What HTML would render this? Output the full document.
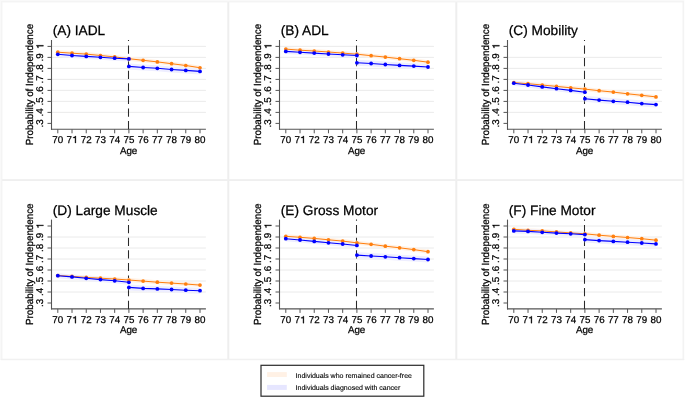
<!DOCTYPE html>
<html><head><meta charset="utf-8"><title>Figure</title>
<style>
html,body{margin:0;padding:0;background:#fff;}
body{width:685px;height:398px;overflow:hidden;}
svg{display:block;will-change:transform;text-rendering:geometricPrecision;font-family:"Liberation Sans",sans-serif;}
svg text{fill:#000000;stroke:#000;stroke-width:0.25px;}
</style></head><body>
<svg width="685" height="398" viewBox="0 0 685 398">
<rect x="0" y="0" width="685" height="398" fill="#ffffff"/>
<rect x="0" y="0" width="684.4" height="360" fill="#f9f9f9"/>
<rect x="2.5" y="2.5" width="224.7" height="176.7" fill="#ffffff"/>
<rect x="2.5" y="181" width="224.7" height="177.8" fill="#ffffff"/>
<rect x="229.3" y="2.5" width="225.9" height="176.7" fill="#ffffff"/>
<rect x="229.3" y="181" width="225.9" height="177.8" fill="#ffffff"/>
<rect x="457.3" y="2.5" width="225.3" height="176.7" fill="#ffffff"/>
<rect x="457.3" y="181" width="225.3" height="177.8" fill="#ffffff"/>
<rect x="227.4" y="1.2" width="1.8" height="358" fill="#eeeeee"/>
<rect x="455.4" y="1.2" width="1.8" height="358" fill="#eeeeee"/>
<rect x="1.2" y="179.2" width="682.6" height="1.8" fill="#efefef"/>
<rect x="0.8" y="358.8" width="683.4" height="1.4" fill="#f1f1f1"/>
<rect x="1.0" y="1.0" width="1.2" height="358" fill="#f4f4f4"/>
<rect x="1.0" y="1.0" width="682.6" height="1.2" fill="#f4f4f4"/>
<rect x="682.6" y="1.0" width="1.4" height="358" fill="#f3f3f3"/>
<g transform="translate(0,0)">
<line x1="52" y1="46.4" x2="205.9" y2="46.4" stroke="#e8e8e8" stroke-width="0.9"/>
<line x1="52" y1="57.4" x2="205.9" y2="57.4" stroke="#e8e8e8" stroke-width="0.9"/>
<line x1="52" y1="68.4" x2="205.9" y2="68.4" stroke="#e8e8e8" stroke-width="0.9"/>
<line x1="52" y1="79.4" x2="205.9" y2="79.4" stroke="#e8e8e8" stroke-width="0.9"/>
<line x1="52" y1="90.4" x2="205.9" y2="90.4" stroke="#e8e8e8" stroke-width="0.9"/>
<line x1="52" y1="101.4" x2="205.9" y2="101.4" stroke="#e8e8e8" stroke-width="0.9"/>
<line x1="52" y1="112.4" x2="205.9" y2="112.4" stroke="#e8e8e8" stroke-width="0.9"/>
<line x1="47.5" y1="46.4" x2="51.5" y2="46.4" stroke="#555555" stroke-width="1"/>
<g transform="translate(43.4,46.4) rotate(-90)"><path transform="translate(-2.72,0) scale(9.8,-9.8)" d="M0.302,0 L0.392,0 L0.392,0.709 L0.318,0.709 C0.296,0.622 0.228,0.582 0.108,0.578 L0.108,0.512 L0.302,0.512 Z" fill="#000" stroke="#000" stroke-width="0.03"/></g>
<line x1="47.5" y1="57.4" x2="51.5" y2="57.4" stroke="#555555" stroke-width="1"/>
<g transform="translate(43.4,57.4) rotate(-90)"><text x="-4.09" y="0" font-size="9.8">.9</text></g>
<line x1="47.5" y1="68.4" x2="51.5" y2="68.4" stroke="#555555" stroke-width="1"/>
<g transform="translate(43.4,68.4) rotate(-90)"><text x="-4.09" y="0" font-size="9.8">.8</text></g>
<line x1="47.5" y1="79.4" x2="51.5" y2="79.4" stroke="#555555" stroke-width="1"/>
<g transform="translate(43.4,79.4) rotate(-90)"><text x="-4.09" y="0" font-size="9.8">.7</text></g>
<line x1="47.5" y1="90.4" x2="51.5" y2="90.4" stroke="#555555" stroke-width="1"/>
<g transform="translate(43.4,90.4) rotate(-90)"><text x="-4.09" y="0" font-size="9.8">.6</text></g>
<line x1="47.5" y1="101.4" x2="51.5" y2="101.4" stroke="#555555" stroke-width="1"/>
<g transform="translate(43.4,101.4) rotate(-90)"><text x="-4.09" y="0" font-size="9.8">.5</text></g>
<line x1="47.5" y1="112.4" x2="51.5" y2="112.4" stroke="#555555" stroke-width="1"/>
<g transform="translate(43.4,112.4) rotate(-90)"><text x="-4.09" y="0" font-size="9.8">.4</text></g>
<line x1="47.5" y1="123.4" x2="51.5" y2="123.4" stroke="#555555" stroke-width="1"/>
<g transform="translate(43.4,123.4) rotate(-90)"><text x="-4.09" y="0" font-size="9.8">.3</text></g>
<line x1="57.8" y1="129.3" x2="57.8" y2="133.3" stroke="#555555" stroke-width="1"/>
<g transform="translate(57.8,142.95)"><text x="-5.45" y="0" font-size="9.8">70</text></g>
<line x1="72.02" y1="129.3" x2="72.02" y2="133.3" stroke="#555555" stroke-width="1"/>
<g transform="translate(72.02,142.95)"><text x="-5.45" y="0" font-size="9.8">7</text><path transform="translate(0,0) scale(9.8,-9.8)" d="M0.302,0 L0.392,0 L0.392,0.709 L0.318,0.709 C0.296,0.622 0.228,0.582 0.108,0.578 L0.108,0.512 L0.302,0.512 Z" fill="#000" stroke="#000" stroke-width="0.03"/></g>
<line x1="86.24" y1="129.3" x2="86.24" y2="133.3" stroke="#555555" stroke-width="1"/>
<g transform="translate(86.24,142.95)"><text x="-5.45" y="0" font-size="9.8">72</text></g>
<line x1="100.46" y1="129.3" x2="100.46" y2="133.3" stroke="#555555" stroke-width="1"/>
<g transform="translate(100.46,142.95)"><text x="-5.45" y="0" font-size="9.8">73</text></g>
<line x1="114.68" y1="129.3" x2="114.68" y2="133.3" stroke="#555555" stroke-width="1"/>
<g transform="translate(114.68,142.95)"><text x="-5.45" y="0" font-size="9.8">74</text></g>
<line x1="128.9" y1="129.3" x2="128.9" y2="133.3" stroke="#555555" stroke-width="1"/>
<g transform="translate(128.9,142.95)"><text x="-5.45" y="0" font-size="9.8">75</text></g>
<line x1="143.12" y1="129.3" x2="143.12" y2="133.3" stroke="#555555" stroke-width="1"/>
<g transform="translate(143.12,142.95)"><text x="-5.45" y="0" font-size="9.8">76</text></g>
<line x1="157.34" y1="129.3" x2="157.34" y2="133.3" stroke="#555555" stroke-width="1"/>
<g transform="translate(157.34,142.95)"><text x="-5.45" y="0" font-size="9.8">77</text></g>
<line x1="171.56" y1="129.3" x2="171.56" y2="133.3" stroke="#555555" stroke-width="1"/>
<g transform="translate(171.56,142.95)"><text x="-5.45" y="0" font-size="9.8">78</text></g>
<line x1="185.78" y1="129.3" x2="185.78" y2="133.3" stroke="#555555" stroke-width="1"/>
<g transform="translate(185.78,142.95)"><text x="-5.45" y="0" font-size="9.8">79</text></g>
<line x1="200" y1="129.3" x2="200" y2="133.3" stroke="#555555" stroke-width="1"/>
<g transform="translate(200,142.95)"><text x="-5.45" y="0" font-size="9.8">80</text></g>
<line x1="51.5" y1="40" x2="51.5" y2="129.8" stroke="#555555" stroke-width="1.1"/>
<line x1="51" y1="129.3" x2="205.9" y2="129.3" stroke="#555555" stroke-width="1.1"/>
<text x="52.75" y="35.3" font-size="13.7">(A) IADL</text>
<text transform="translate(33,84.6) rotate(-90) scale(1,1.05)" text-anchor="middle" font-size="9.8">Probability of Independence</text>
<text x="128.6" y="153.6" text-anchor="middle" font-size="9.8">Age</text>
</g>
<line x1="128.5" y1="129.3" x2="128.5" y2="40" stroke="#2a2a2a" stroke-width="1.05" stroke-dasharray="8.2 4.4"/>
<polyline points="57.8,52.2 72.02,53.2 86.24,54.1 100.46,55.5 114.68,56.9 128.9,58.7 143.12,60.3 157.34,61.9 171.56,63.7 185.78,65.5 200,67.75" fill="none" stroke="#fff1e4" stroke-width="4.0" stroke-linejoin="round"/>
<polyline points="57.8,54.3 72.02,55.5 86.24,56.4 100.46,57.3 114.68,58.2 128.9,58.9" fill="none" stroke="#eeeeff" stroke-width="5.0" stroke-linejoin="round"/>
<polyline points="128.9,66.4 143.12,67.5 157.34,68.3 171.56,69.5 185.78,70.4 200,71.4" fill="none" stroke="#eeeeff" stroke-width="6.0" stroke-linejoin="round"/>
<polyline points="57.8,52.2 72.02,53.2 86.24,54.1 100.46,55.5 114.68,56.9 128.9,58.7 143.12,60.3 157.34,61.9 171.56,63.7 185.78,65.5 200,67.75" fill="none" stroke="#ff7f0e" stroke-width="1.0" stroke-linejoin="round"/>
<circle cx="57.8" cy="52.2" r="1.85" fill="#ff7f0e"/><circle cx="72.02" cy="53.2" r="1.85" fill="#ff7f0e"/><circle cx="86.24" cy="54.1" r="1.85" fill="#ff7f0e"/><circle cx="100.46" cy="55.5" r="1.85" fill="#ff7f0e"/><circle cx="114.68" cy="56.9" r="1.85" fill="#ff7f0e"/><circle cx="128.9" cy="58.7" r="1.85" fill="#ff7f0e"/><circle cx="143.12" cy="60.3" r="1.85" fill="#ff7f0e"/><circle cx="157.34" cy="61.9" r="1.85" fill="#ff7f0e"/><circle cx="171.56" cy="63.7" r="1.85" fill="#ff7f0e"/><circle cx="185.78" cy="65.5" r="1.85" fill="#ff7f0e"/><circle cx="200" cy="67.75" r="1.85" fill="#ff7f0e"/>
<polyline points="57.8,54.3 72.02,55.5 86.24,56.4 100.46,57.3 114.68,58.2 128.9,58.9" fill="none" stroke="#0000ff" stroke-width="1.15" stroke-linejoin="round"/>
<polyline points="128.9,66.4 143.12,67.5 157.34,68.3 171.56,69.5 185.78,70.4 200,71.4" fill="none" stroke="#0000ff" stroke-width="1.15" stroke-linejoin="round"/>
<circle cx="57.8" cy="54.3" r="1.9" fill="#0000ff"/><circle cx="72.02" cy="55.5" r="1.9" fill="#0000ff"/><circle cx="86.24" cy="56.4" r="1.9" fill="#0000ff"/><circle cx="100.46" cy="57.3" r="1.9" fill="#0000ff"/><circle cx="114.68" cy="58.2" r="1.9" fill="#0000ff"/><circle cx="128.9" cy="58.9" r="1.9" fill="#0000ff"/>
<circle cx="128.9" cy="66.4" r="1.9" fill="#0000ff"/><circle cx="143.12" cy="67.5" r="1.9" fill="#0000ff"/><circle cx="157.34" cy="68.3" r="1.9" fill="#0000ff"/><circle cx="171.56" cy="69.5" r="1.9" fill="#0000ff"/><circle cx="185.78" cy="70.4" r="1.9" fill="#0000ff"/><circle cx="200" cy="71.4" r="1.9" fill="#0000ff"/>
<g transform="translate(228,0)">
<line x1="52" y1="46.4" x2="205.9" y2="46.4" stroke="#e8e8e8" stroke-width="0.9"/>
<line x1="52" y1="57.4" x2="205.9" y2="57.4" stroke="#e8e8e8" stroke-width="0.9"/>
<line x1="52" y1="68.4" x2="205.9" y2="68.4" stroke="#e8e8e8" stroke-width="0.9"/>
<line x1="52" y1="79.4" x2="205.9" y2="79.4" stroke="#e8e8e8" stroke-width="0.9"/>
<line x1="52" y1="90.4" x2="205.9" y2="90.4" stroke="#e8e8e8" stroke-width="0.9"/>
<line x1="52" y1="101.4" x2="205.9" y2="101.4" stroke="#e8e8e8" stroke-width="0.9"/>
<line x1="52" y1="112.4" x2="205.9" y2="112.4" stroke="#e8e8e8" stroke-width="0.9"/>
<line x1="47.5" y1="46.4" x2="51.5" y2="46.4" stroke="#555555" stroke-width="1"/>
<g transform="translate(43.4,46.4) rotate(-90)"><path transform="translate(-2.72,0) scale(9.8,-9.8)" d="M0.302,0 L0.392,0 L0.392,0.709 L0.318,0.709 C0.296,0.622 0.228,0.582 0.108,0.578 L0.108,0.512 L0.302,0.512 Z" fill="#000" stroke="#000" stroke-width="0.03"/></g>
<line x1="47.5" y1="57.4" x2="51.5" y2="57.4" stroke="#555555" stroke-width="1"/>
<g transform="translate(43.4,57.4) rotate(-90)"><text x="-4.09" y="0" font-size="9.8">.9</text></g>
<line x1="47.5" y1="68.4" x2="51.5" y2="68.4" stroke="#555555" stroke-width="1"/>
<g transform="translate(43.4,68.4) rotate(-90)"><text x="-4.09" y="0" font-size="9.8">.8</text></g>
<line x1="47.5" y1="79.4" x2="51.5" y2="79.4" stroke="#555555" stroke-width="1"/>
<g transform="translate(43.4,79.4) rotate(-90)"><text x="-4.09" y="0" font-size="9.8">.7</text></g>
<line x1="47.5" y1="90.4" x2="51.5" y2="90.4" stroke="#555555" stroke-width="1"/>
<g transform="translate(43.4,90.4) rotate(-90)"><text x="-4.09" y="0" font-size="9.8">.6</text></g>
<line x1="47.5" y1="101.4" x2="51.5" y2="101.4" stroke="#555555" stroke-width="1"/>
<g transform="translate(43.4,101.4) rotate(-90)"><text x="-4.09" y="0" font-size="9.8">.5</text></g>
<line x1="47.5" y1="112.4" x2="51.5" y2="112.4" stroke="#555555" stroke-width="1"/>
<g transform="translate(43.4,112.4) rotate(-90)"><text x="-4.09" y="0" font-size="9.8">.4</text></g>
<line x1="47.5" y1="123.4" x2="51.5" y2="123.4" stroke="#555555" stroke-width="1"/>
<g transform="translate(43.4,123.4) rotate(-90)"><text x="-4.09" y="0" font-size="9.8">.3</text></g>
<line x1="57.8" y1="129.3" x2="57.8" y2="133.3" stroke="#555555" stroke-width="1"/>
<g transform="translate(57.8,142.95)"><text x="-5.45" y="0" font-size="9.8">70</text></g>
<line x1="72.02" y1="129.3" x2="72.02" y2="133.3" stroke="#555555" stroke-width="1"/>
<g transform="translate(72.02,142.95)"><text x="-5.45" y="0" font-size="9.8">7</text><path transform="translate(0,0) scale(9.8,-9.8)" d="M0.302,0 L0.392,0 L0.392,0.709 L0.318,0.709 C0.296,0.622 0.228,0.582 0.108,0.578 L0.108,0.512 L0.302,0.512 Z" fill="#000" stroke="#000" stroke-width="0.03"/></g>
<line x1="86.24" y1="129.3" x2="86.24" y2="133.3" stroke="#555555" stroke-width="1"/>
<g transform="translate(86.24,142.95)"><text x="-5.45" y="0" font-size="9.8">72</text></g>
<line x1="100.46" y1="129.3" x2="100.46" y2="133.3" stroke="#555555" stroke-width="1"/>
<g transform="translate(100.46,142.95)"><text x="-5.45" y="0" font-size="9.8">73</text></g>
<line x1="114.68" y1="129.3" x2="114.68" y2="133.3" stroke="#555555" stroke-width="1"/>
<g transform="translate(114.68,142.95)"><text x="-5.45" y="0" font-size="9.8">74</text></g>
<line x1="128.9" y1="129.3" x2="128.9" y2="133.3" stroke="#555555" stroke-width="1"/>
<g transform="translate(128.9,142.95)"><text x="-5.45" y="0" font-size="9.8">75</text></g>
<line x1="143.12" y1="129.3" x2="143.12" y2="133.3" stroke="#555555" stroke-width="1"/>
<g transform="translate(143.12,142.95)"><text x="-5.45" y="0" font-size="9.8">76</text></g>
<line x1="157.34" y1="129.3" x2="157.34" y2="133.3" stroke="#555555" stroke-width="1"/>
<g transform="translate(157.34,142.95)"><text x="-5.45" y="0" font-size="9.8">77</text></g>
<line x1="171.56" y1="129.3" x2="171.56" y2="133.3" stroke="#555555" stroke-width="1"/>
<g transform="translate(171.56,142.95)"><text x="-5.45" y="0" font-size="9.8">78</text></g>
<line x1="185.78" y1="129.3" x2="185.78" y2="133.3" stroke="#555555" stroke-width="1"/>
<g transform="translate(185.78,142.95)"><text x="-5.45" y="0" font-size="9.8">79</text></g>
<line x1="200" y1="129.3" x2="200" y2="133.3" stroke="#555555" stroke-width="1"/>
<g transform="translate(200,142.95)"><text x="-5.45" y="0" font-size="9.8">80</text></g>
<line x1="51.5" y1="40" x2="51.5" y2="129.8" stroke="#555555" stroke-width="1.1"/>
<line x1="51" y1="129.3" x2="205.9" y2="129.3" stroke="#555555" stroke-width="1.1"/>
<text x="52.75" y="35.3" font-size="13.7">(B) ADL</text>
<text transform="translate(33,84.6) rotate(-90) scale(1,1.05)" text-anchor="middle" font-size="9.8">Probability of Independence</text>
<text x="128.6" y="153.6" text-anchor="middle" font-size="9.8">Age</text>
</g>
<line x1="356.5" y1="129.3" x2="356.5" y2="40" stroke="#2a2a2a" stroke-width="1.05" stroke-dasharray="8.2 4.4"/>
<polyline points="285.8,49.1 300.02,50.2 314.24,51 328.46,52 342.68,53.1 356.9,54.2 371.12,55.7 385.34,57.1 399.56,58.7 413.78,60.3 428,62.2" fill="none" stroke="#fff1e4" stroke-width="4.0" stroke-linejoin="round"/>
<polyline points="285.8,51.4 300.02,52.3 314.24,53.1 328.46,54 342.68,54.8 356.9,55.5" fill="none" stroke="#eeeeff" stroke-width="5.0" stroke-linejoin="round"/>
<polyline points="356.9,62.8 371.12,63.5 385.34,64.5 399.56,65.4 413.78,66.1 428,67" fill="none" stroke="#eeeeff" stroke-width="6.0" stroke-linejoin="round"/>
<polyline points="285.8,49.1 300.02,50.2 314.24,51 328.46,52 342.68,53.1 356.9,54.2 371.12,55.7 385.34,57.1 399.56,58.7 413.78,60.3 428,62.2" fill="none" stroke="#ff7f0e" stroke-width="1.0" stroke-linejoin="round"/>
<circle cx="285.8" cy="49.1" r="1.85" fill="#ff7f0e"/><circle cx="300.02" cy="50.2" r="1.85" fill="#ff7f0e"/><circle cx="314.24" cy="51" r="1.85" fill="#ff7f0e"/><circle cx="328.46" cy="52" r="1.85" fill="#ff7f0e"/><circle cx="342.68" cy="53.1" r="1.85" fill="#ff7f0e"/><circle cx="356.9" cy="54.2" r="1.85" fill="#ff7f0e"/><circle cx="371.12" cy="55.7" r="1.85" fill="#ff7f0e"/><circle cx="385.34" cy="57.1" r="1.85" fill="#ff7f0e"/><circle cx="399.56" cy="58.7" r="1.85" fill="#ff7f0e"/><circle cx="413.78" cy="60.3" r="1.85" fill="#ff7f0e"/><circle cx="428" cy="62.2" r="1.85" fill="#ff7f0e"/>
<polyline points="285.8,51.4 300.02,52.3 314.24,53.1 328.46,54 342.68,54.8 356.9,55.5" fill="none" stroke="#0000ff" stroke-width="1.15" stroke-linejoin="round"/>
<polyline points="356.9,62.8 371.12,63.5 385.34,64.5 399.56,65.4 413.78,66.1 428,67" fill="none" stroke="#0000ff" stroke-width="1.15" stroke-linejoin="round"/>
<circle cx="285.8" cy="51.4" r="1.9" fill="#0000ff"/><circle cx="300.02" cy="52.3" r="1.9" fill="#0000ff"/><circle cx="314.24" cy="53.1" r="1.9" fill="#0000ff"/><circle cx="328.46" cy="54" r="1.9" fill="#0000ff"/><circle cx="342.68" cy="54.8" r="1.9" fill="#0000ff"/><circle cx="356.9" cy="55.5" r="1.9" fill="#0000ff"/>
<circle cx="356.9" cy="62.8" r="1.9" fill="#0000ff"/><circle cx="371.12" cy="63.5" r="1.9" fill="#0000ff"/><circle cx="385.34" cy="64.5" r="1.9" fill="#0000ff"/><circle cx="399.56" cy="65.4" r="1.9" fill="#0000ff"/><circle cx="413.78" cy="66.1" r="1.9" fill="#0000ff"/><circle cx="428" cy="67" r="1.9" fill="#0000ff"/>
<g transform="translate(456,0)">
<line x1="52" y1="57.4" x2="205.9" y2="57.4" stroke="#e8e8e8" stroke-width="0.9"/>
<line x1="52" y1="68.4" x2="205.9" y2="68.4" stroke="#e8e8e8" stroke-width="0.9"/>
<line x1="52" y1="79.4" x2="205.9" y2="79.4" stroke="#e8e8e8" stroke-width="0.9"/>
<line x1="52" y1="90.4" x2="205.9" y2="90.4" stroke="#e8e8e8" stroke-width="0.9"/>
<line x1="52" y1="101.4" x2="205.9" y2="101.4" stroke="#e8e8e8" stroke-width="0.9"/>
<line x1="52" y1="112.4" x2="205.9" y2="112.4" stroke="#e8e8e8" stroke-width="0.9"/>
<line x1="47.5" y1="46.4" x2="51.5" y2="46.4" stroke="#555555" stroke-width="1"/>
<g transform="translate(43.4,46.4) rotate(-90)"><path transform="translate(-2.72,0) scale(9.8,-9.8)" d="M0.302,0 L0.392,0 L0.392,0.709 L0.318,0.709 C0.296,0.622 0.228,0.582 0.108,0.578 L0.108,0.512 L0.302,0.512 Z" fill="#000" stroke="#000" stroke-width="0.03"/></g>
<line x1="47.5" y1="57.4" x2="51.5" y2="57.4" stroke="#555555" stroke-width="1"/>
<g transform="translate(43.4,57.4) rotate(-90)"><text x="-4.09" y="0" font-size="9.8">.9</text></g>
<line x1="47.5" y1="68.4" x2="51.5" y2="68.4" stroke="#555555" stroke-width="1"/>
<g transform="translate(43.4,68.4) rotate(-90)"><text x="-4.09" y="0" font-size="9.8">.8</text></g>
<line x1="47.5" y1="79.4" x2="51.5" y2="79.4" stroke="#555555" stroke-width="1"/>
<g transform="translate(43.4,79.4) rotate(-90)"><text x="-4.09" y="0" font-size="9.8">.7</text></g>
<line x1="47.5" y1="90.4" x2="51.5" y2="90.4" stroke="#555555" stroke-width="1"/>
<g transform="translate(43.4,90.4) rotate(-90)"><text x="-4.09" y="0" font-size="9.8">.6</text></g>
<line x1="47.5" y1="101.4" x2="51.5" y2="101.4" stroke="#555555" stroke-width="1"/>
<g transform="translate(43.4,101.4) rotate(-90)"><text x="-4.09" y="0" font-size="9.8">.5</text></g>
<line x1="47.5" y1="112.4" x2="51.5" y2="112.4" stroke="#555555" stroke-width="1"/>
<g transform="translate(43.4,112.4) rotate(-90)"><text x="-4.09" y="0" font-size="9.8">.4</text></g>
<line x1="47.5" y1="123.4" x2="51.5" y2="123.4" stroke="#555555" stroke-width="1"/>
<g transform="translate(43.4,123.4) rotate(-90)"><text x="-4.09" y="0" font-size="9.8">.3</text></g>
<line x1="57.8" y1="129.3" x2="57.8" y2="133.3" stroke="#555555" stroke-width="1"/>
<g transform="translate(57.8,142.95)"><text x="-5.45" y="0" font-size="9.8">70</text></g>
<line x1="72.02" y1="129.3" x2="72.02" y2="133.3" stroke="#555555" stroke-width="1"/>
<g transform="translate(72.02,142.95)"><text x="-5.45" y="0" font-size="9.8">7</text><path transform="translate(0,0) scale(9.8,-9.8)" d="M0.302,0 L0.392,0 L0.392,0.709 L0.318,0.709 C0.296,0.622 0.228,0.582 0.108,0.578 L0.108,0.512 L0.302,0.512 Z" fill="#000" stroke="#000" stroke-width="0.03"/></g>
<line x1="86.24" y1="129.3" x2="86.24" y2="133.3" stroke="#555555" stroke-width="1"/>
<g transform="translate(86.24,142.95)"><text x="-5.45" y="0" font-size="9.8">72</text></g>
<line x1="100.46" y1="129.3" x2="100.46" y2="133.3" stroke="#555555" stroke-width="1"/>
<g transform="translate(100.46,142.95)"><text x="-5.45" y="0" font-size="9.8">73</text></g>
<line x1="114.68" y1="129.3" x2="114.68" y2="133.3" stroke="#555555" stroke-width="1"/>
<g transform="translate(114.68,142.95)"><text x="-5.45" y="0" font-size="9.8">74</text></g>
<line x1="128.9" y1="129.3" x2="128.9" y2="133.3" stroke="#555555" stroke-width="1"/>
<g transform="translate(128.9,142.95)"><text x="-5.45" y="0" font-size="9.8">75</text></g>
<line x1="143.12" y1="129.3" x2="143.12" y2="133.3" stroke="#555555" stroke-width="1"/>
<g transform="translate(143.12,142.95)"><text x="-5.45" y="0" font-size="9.8">76</text></g>
<line x1="157.34" y1="129.3" x2="157.34" y2="133.3" stroke="#555555" stroke-width="1"/>
<g transform="translate(157.34,142.95)"><text x="-5.45" y="0" font-size="9.8">77</text></g>
<line x1="171.56" y1="129.3" x2="171.56" y2="133.3" stroke="#555555" stroke-width="1"/>
<g transform="translate(171.56,142.95)"><text x="-5.45" y="0" font-size="9.8">78</text></g>
<line x1="185.78" y1="129.3" x2="185.78" y2="133.3" stroke="#555555" stroke-width="1"/>
<g transform="translate(185.78,142.95)"><text x="-5.45" y="0" font-size="9.8">79</text></g>
<line x1="200" y1="129.3" x2="200" y2="133.3" stroke="#555555" stroke-width="1"/>
<g transform="translate(200,142.95)"><text x="-5.45" y="0" font-size="9.8">80</text></g>
<line x1="51.5" y1="40" x2="51.5" y2="129.8" stroke="#555555" stroke-width="1.1"/>
<line x1="51" y1="129.3" x2="205.9" y2="129.3" stroke="#555555" stroke-width="1.1"/>
<text x="52.75" y="35.3" font-size="13.7">(C) Mobility</text>
<text transform="translate(33,84.6) rotate(-90) scale(1,1.05)" text-anchor="middle" font-size="9.8">Probability of Independence</text>
<text x="128.6" y="153.6" text-anchor="middle" font-size="9.8">Age</text>
</g>
<line x1="584.5" y1="129.3" x2="584.5" y2="40" stroke="#2a2a2a" stroke-width="1.05" stroke-dasharray="8.2 4.4"/>
<polyline points="513.8,82.6 528.02,83.7 542.24,85 556.46,86.4 570.68,87.8 584.9,89.1 599.12,90.7 613.34,92.1 627.56,93.8 641.78,95.3 656,96.9" fill="none" stroke="#fff1e4" stroke-width="4.0" stroke-linejoin="round"/>
<polyline points="513.8,83.2 528.02,85 542.24,86.9 556.46,88.7 570.68,90.4 584.9,92.2" fill="none" stroke="#eeeeff" stroke-width="5.0" stroke-linejoin="round"/>
<polyline points="584.9,98.7 599.12,100.1 613.34,101.3 627.56,102.2 641.78,103.6 656,104.6" fill="none" stroke="#eeeeff" stroke-width="6.0" stroke-linejoin="round"/>
<polyline points="513.8,82.6 528.02,83.7 542.24,85 556.46,86.4 570.68,87.8 584.9,89.1 599.12,90.7 613.34,92.1 627.56,93.8 641.78,95.3 656,96.9" fill="none" stroke="#ff7f0e" stroke-width="1.0" stroke-linejoin="round"/>
<circle cx="513.8" cy="82.6" r="1.85" fill="#ff7f0e"/><circle cx="528.02" cy="83.7" r="1.85" fill="#ff7f0e"/><circle cx="542.24" cy="85" r="1.85" fill="#ff7f0e"/><circle cx="556.46" cy="86.4" r="1.85" fill="#ff7f0e"/><circle cx="570.68" cy="87.8" r="1.85" fill="#ff7f0e"/><circle cx="584.9" cy="89.1" r="1.85" fill="#ff7f0e"/><circle cx="599.12" cy="90.7" r="1.85" fill="#ff7f0e"/><circle cx="613.34" cy="92.1" r="1.85" fill="#ff7f0e"/><circle cx="627.56" cy="93.8" r="1.85" fill="#ff7f0e"/><circle cx="641.78" cy="95.3" r="1.85" fill="#ff7f0e"/><circle cx="656" cy="96.9" r="1.85" fill="#ff7f0e"/>
<polyline points="513.8,83.2 528.02,85 542.24,86.9 556.46,88.7 570.68,90.4 584.9,92.2" fill="none" stroke="#0000ff" stroke-width="1.15" stroke-linejoin="round"/>
<polyline points="584.9,98.7 599.12,100.1 613.34,101.3 627.56,102.2 641.78,103.6 656,104.6" fill="none" stroke="#0000ff" stroke-width="1.15" stroke-linejoin="round"/>
<circle cx="513.8" cy="83.2" r="1.9" fill="#0000ff"/><circle cx="528.02" cy="85" r="1.9" fill="#0000ff"/><circle cx="542.24" cy="86.9" r="1.9" fill="#0000ff"/><circle cx="556.46" cy="88.7" r="1.9" fill="#0000ff"/><circle cx="570.68" cy="90.4" r="1.9" fill="#0000ff"/><circle cx="584.9" cy="92.2" r="1.9" fill="#0000ff"/>
<circle cx="584.9" cy="98.7" r="1.9" fill="#0000ff"/><circle cx="599.12" cy="100.1" r="1.9" fill="#0000ff"/><circle cx="613.34" cy="101.3" r="1.9" fill="#0000ff"/><circle cx="627.56" cy="102.2" r="1.9" fill="#0000ff"/><circle cx="641.78" cy="103.6" r="1.9" fill="#0000ff"/><circle cx="656" cy="104.6" r="1.9" fill="#0000ff"/>
<g transform="translate(0,179.6)">
<line x1="52" y1="57.4" x2="205.9" y2="57.4" stroke="#e8e8e8" stroke-width="0.9"/>
<line x1="52" y1="68.4" x2="205.9" y2="68.4" stroke="#e8e8e8" stroke-width="0.9"/>
<line x1="52" y1="79.4" x2="205.9" y2="79.4" stroke="#e8e8e8" stroke-width="0.9"/>
<line x1="52" y1="90.4" x2="205.9" y2="90.4" stroke="#e8e8e8" stroke-width="0.9"/>
<line x1="52" y1="101.4" x2="205.9" y2="101.4" stroke="#e8e8e8" stroke-width="0.9"/>
<line x1="52" y1="112.4" x2="205.9" y2="112.4" stroke="#e8e8e8" stroke-width="0.9"/>
<line x1="47.5" y1="46.4" x2="51.5" y2="46.4" stroke="#555555" stroke-width="1"/>
<g transform="translate(43.4,46.4) rotate(-90)"><path transform="translate(-2.72,0) scale(9.8,-9.8)" d="M0.302,0 L0.392,0 L0.392,0.709 L0.318,0.709 C0.296,0.622 0.228,0.582 0.108,0.578 L0.108,0.512 L0.302,0.512 Z" fill="#000" stroke="#000" stroke-width="0.03"/></g>
<line x1="47.5" y1="57.4" x2="51.5" y2="57.4" stroke="#555555" stroke-width="1"/>
<g transform="translate(43.4,57.4) rotate(-90)"><text x="-4.09" y="0" font-size="9.8">.9</text></g>
<line x1="47.5" y1="68.4" x2="51.5" y2="68.4" stroke="#555555" stroke-width="1"/>
<g transform="translate(43.4,68.4) rotate(-90)"><text x="-4.09" y="0" font-size="9.8">.8</text></g>
<line x1="47.5" y1="79.4" x2="51.5" y2="79.4" stroke="#555555" stroke-width="1"/>
<g transform="translate(43.4,79.4) rotate(-90)"><text x="-4.09" y="0" font-size="9.8">.7</text></g>
<line x1="47.5" y1="90.4" x2="51.5" y2="90.4" stroke="#555555" stroke-width="1"/>
<g transform="translate(43.4,90.4) rotate(-90)"><text x="-4.09" y="0" font-size="9.8">.6</text></g>
<line x1="47.5" y1="101.4" x2="51.5" y2="101.4" stroke="#555555" stroke-width="1"/>
<g transform="translate(43.4,101.4) rotate(-90)"><text x="-4.09" y="0" font-size="9.8">.5</text></g>
<line x1="47.5" y1="112.4" x2="51.5" y2="112.4" stroke="#555555" stroke-width="1"/>
<g transform="translate(43.4,112.4) rotate(-90)"><text x="-4.09" y="0" font-size="9.8">.4</text></g>
<line x1="47.5" y1="123.4" x2="51.5" y2="123.4" stroke="#555555" stroke-width="1"/>
<g transform="translate(43.4,123.4) rotate(-90)"><text x="-4.09" y="0" font-size="9.8">.3</text></g>
<line x1="57.8" y1="129.3" x2="57.8" y2="133.3" stroke="#555555" stroke-width="1"/>
<g transform="translate(57.8,143.55)"><text x="-5.45" y="0" font-size="9.8">70</text></g>
<line x1="72.02" y1="129.3" x2="72.02" y2="133.3" stroke="#555555" stroke-width="1"/>
<g transform="translate(72.02,143.55)"><text x="-5.45" y="0" font-size="9.8">7</text><path transform="translate(0,0) scale(9.8,-9.8)" d="M0.302,0 L0.392,0 L0.392,0.709 L0.318,0.709 C0.296,0.622 0.228,0.582 0.108,0.578 L0.108,0.512 L0.302,0.512 Z" fill="#000" stroke="#000" stroke-width="0.03"/></g>
<line x1="86.24" y1="129.3" x2="86.24" y2="133.3" stroke="#555555" stroke-width="1"/>
<g transform="translate(86.24,143.55)"><text x="-5.45" y="0" font-size="9.8">72</text></g>
<line x1="100.46" y1="129.3" x2="100.46" y2="133.3" stroke="#555555" stroke-width="1"/>
<g transform="translate(100.46,143.55)"><text x="-5.45" y="0" font-size="9.8">73</text></g>
<line x1="114.68" y1="129.3" x2="114.68" y2="133.3" stroke="#555555" stroke-width="1"/>
<g transform="translate(114.68,143.55)"><text x="-5.45" y="0" font-size="9.8">74</text></g>
<line x1="128.9" y1="129.3" x2="128.9" y2="133.3" stroke="#555555" stroke-width="1"/>
<g transform="translate(128.9,143.55)"><text x="-5.45" y="0" font-size="9.8">75</text></g>
<line x1="143.12" y1="129.3" x2="143.12" y2="133.3" stroke="#555555" stroke-width="1"/>
<g transform="translate(143.12,143.55)"><text x="-5.45" y="0" font-size="9.8">76</text></g>
<line x1="157.34" y1="129.3" x2="157.34" y2="133.3" stroke="#555555" stroke-width="1"/>
<g transform="translate(157.34,143.55)"><text x="-5.45" y="0" font-size="9.8">77</text></g>
<line x1="171.56" y1="129.3" x2="171.56" y2="133.3" stroke="#555555" stroke-width="1"/>
<g transform="translate(171.56,143.55)"><text x="-5.45" y="0" font-size="9.8">78</text></g>
<line x1="185.78" y1="129.3" x2="185.78" y2="133.3" stroke="#555555" stroke-width="1"/>
<g transform="translate(185.78,143.55)"><text x="-5.45" y="0" font-size="9.8">79</text></g>
<line x1="200" y1="129.3" x2="200" y2="133.3" stroke="#555555" stroke-width="1"/>
<g transform="translate(200,143.55)"><text x="-5.45" y="0" font-size="9.8">80</text></g>
<line x1="51.5" y1="40" x2="51.5" y2="129.8" stroke="#555555" stroke-width="1.1"/>
<line x1="51" y1="129.3" x2="205.9" y2="129.3" stroke="#555555" stroke-width="1.1"/>
<text x="52.75" y="35.3" font-size="13.7">(D) Large Muscle</text>
<text transform="translate(33,84.6) rotate(-90) scale(1,1.05)" text-anchor="middle" font-size="9.8">Probability of Independence</text>
<text x="128.6" y="153.6" text-anchor="middle" font-size="9.8">Age</text>
</g>
<line x1="128.5" y1="308.9" x2="128.5" y2="219.6" stroke="#2a2a2a" stroke-width="1.05" stroke-dasharray="8.2 4.4"/>
<polyline points="57.8,275.5 72.02,276.4 86.24,277.4 100.46,278.2 114.68,279 128.9,280 143.12,281.1 157.34,282.2 171.56,283.1 185.78,284 200,285.1" fill="none" stroke="#fff1e4" stroke-width="4.0" stroke-linejoin="round"/>
<polyline points="57.8,275.7 72.02,276.9 86.24,278.3 100.46,279.6 114.68,280.8 128.9,282.3" fill="none" stroke="#eeeeff" stroke-width="5.0" stroke-linejoin="round"/>
<polyline points="128.9,287.4 143.12,288.4 157.34,288.9 171.56,289.5 185.78,290.2 200,290.7" fill="none" stroke="#eeeeff" stroke-width="6.0" stroke-linejoin="round"/>
<polyline points="57.8,275.5 72.02,276.4 86.24,277.4 100.46,278.2 114.68,279 128.9,280 143.12,281.1 157.34,282.2 171.56,283.1 185.78,284 200,285.1" fill="none" stroke="#ff7f0e" stroke-width="1.0" stroke-linejoin="round"/>
<circle cx="57.8" cy="275.5" r="1.85" fill="#ff7f0e"/><circle cx="72.02" cy="276.4" r="1.85" fill="#ff7f0e"/><circle cx="86.24" cy="277.4" r="1.85" fill="#ff7f0e"/><circle cx="100.46" cy="278.2" r="1.85" fill="#ff7f0e"/><circle cx="114.68" cy="279" r="1.85" fill="#ff7f0e"/><circle cx="128.9" cy="280" r="1.85" fill="#ff7f0e"/><circle cx="143.12" cy="281.1" r="1.85" fill="#ff7f0e"/><circle cx="157.34" cy="282.2" r="1.85" fill="#ff7f0e"/><circle cx="171.56" cy="283.1" r="1.85" fill="#ff7f0e"/><circle cx="185.78" cy="284" r="1.85" fill="#ff7f0e"/><circle cx="200" cy="285.1" r="1.85" fill="#ff7f0e"/>
<polyline points="57.8,275.7 72.02,276.9 86.24,278.3 100.46,279.6 114.68,280.8 128.9,282.3" fill="none" stroke="#0000ff" stroke-width="1.15" stroke-linejoin="round"/>
<polyline points="128.9,287.4 143.12,288.4 157.34,288.9 171.56,289.5 185.78,290.2 200,290.7" fill="none" stroke="#0000ff" stroke-width="1.15" stroke-linejoin="round"/>
<circle cx="57.8" cy="275.7" r="1.9" fill="#0000ff"/><circle cx="72.02" cy="276.9" r="1.9" fill="#0000ff"/><circle cx="86.24" cy="278.3" r="1.9" fill="#0000ff"/><circle cx="100.46" cy="279.6" r="1.9" fill="#0000ff"/><circle cx="114.68" cy="280.8" r="1.9" fill="#0000ff"/><circle cx="128.9" cy="282.3" r="1.9" fill="#0000ff"/>
<circle cx="128.9" cy="287.4" r="1.9" fill="#0000ff"/><circle cx="143.12" cy="288.4" r="1.9" fill="#0000ff"/><circle cx="157.34" cy="288.9" r="1.9" fill="#0000ff"/><circle cx="171.56" cy="289.5" r="1.9" fill="#0000ff"/><circle cx="185.78" cy="290.2" r="1.9" fill="#0000ff"/><circle cx="200" cy="290.7" r="1.9" fill="#0000ff"/>
<g transform="translate(228,179.6)">
<line x1="52" y1="57.4" x2="205.9" y2="57.4" stroke="#e8e8e8" stroke-width="0.9"/>
<line x1="52" y1="68.4" x2="205.9" y2="68.4" stroke="#e8e8e8" stroke-width="0.9"/>
<line x1="52" y1="79.4" x2="205.9" y2="79.4" stroke="#e8e8e8" stroke-width="0.9"/>
<line x1="52" y1="90.4" x2="205.9" y2="90.4" stroke="#e8e8e8" stroke-width="0.9"/>
<line x1="52" y1="101.4" x2="205.9" y2="101.4" stroke="#e8e8e8" stroke-width="0.9"/>
<line x1="52" y1="112.4" x2="205.9" y2="112.4" stroke="#e8e8e8" stroke-width="0.9"/>
<line x1="47.5" y1="46.4" x2="51.5" y2="46.4" stroke="#555555" stroke-width="1"/>
<g transform="translate(43.4,46.4) rotate(-90)"><path transform="translate(-2.72,0) scale(9.8,-9.8)" d="M0.302,0 L0.392,0 L0.392,0.709 L0.318,0.709 C0.296,0.622 0.228,0.582 0.108,0.578 L0.108,0.512 L0.302,0.512 Z" fill="#000" stroke="#000" stroke-width="0.03"/></g>
<line x1="47.5" y1="57.4" x2="51.5" y2="57.4" stroke="#555555" stroke-width="1"/>
<g transform="translate(43.4,57.4) rotate(-90)"><text x="-4.09" y="0" font-size="9.8">.9</text></g>
<line x1="47.5" y1="68.4" x2="51.5" y2="68.4" stroke="#555555" stroke-width="1"/>
<g transform="translate(43.4,68.4) rotate(-90)"><text x="-4.09" y="0" font-size="9.8">.8</text></g>
<line x1="47.5" y1="79.4" x2="51.5" y2="79.4" stroke="#555555" stroke-width="1"/>
<g transform="translate(43.4,79.4) rotate(-90)"><text x="-4.09" y="0" font-size="9.8">.7</text></g>
<line x1="47.5" y1="90.4" x2="51.5" y2="90.4" stroke="#555555" stroke-width="1"/>
<g transform="translate(43.4,90.4) rotate(-90)"><text x="-4.09" y="0" font-size="9.8">.6</text></g>
<line x1="47.5" y1="101.4" x2="51.5" y2="101.4" stroke="#555555" stroke-width="1"/>
<g transform="translate(43.4,101.4) rotate(-90)"><text x="-4.09" y="0" font-size="9.8">.5</text></g>
<line x1="47.5" y1="112.4" x2="51.5" y2="112.4" stroke="#555555" stroke-width="1"/>
<g transform="translate(43.4,112.4) rotate(-90)"><text x="-4.09" y="0" font-size="9.8">.4</text></g>
<line x1="47.5" y1="123.4" x2="51.5" y2="123.4" stroke="#555555" stroke-width="1"/>
<g transform="translate(43.4,123.4) rotate(-90)"><text x="-4.09" y="0" font-size="9.8">.3</text></g>
<line x1="57.8" y1="129.3" x2="57.8" y2="133.3" stroke="#555555" stroke-width="1"/>
<g transform="translate(57.8,143.55)"><text x="-5.45" y="0" font-size="9.8">70</text></g>
<line x1="72.02" y1="129.3" x2="72.02" y2="133.3" stroke="#555555" stroke-width="1"/>
<g transform="translate(72.02,143.55)"><text x="-5.45" y="0" font-size="9.8">7</text><path transform="translate(0,0) scale(9.8,-9.8)" d="M0.302,0 L0.392,0 L0.392,0.709 L0.318,0.709 C0.296,0.622 0.228,0.582 0.108,0.578 L0.108,0.512 L0.302,0.512 Z" fill="#000" stroke="#000" stroke-width="0.03"/></g>
<line x1="86.24" y1="129.3" x2="86.24" y2="133.3" stroke="#555555" stroke-width="1"/>
<g transform="translate(86.24,143.55)"><text x="-5.45" y="0" font-size="9.8">72</text></g>
<line x1="100.46" y1="129.3" x2="100.46" y2="133.3" stroke="#555555" stroke-width="1"/>
<g transform="translate(100.46,143.55)"><text x="-5.45" y="0" font-size="9.8">73</text></g>
<line x1="114.68" y1="129.3" x2="114.68" y2="133.3" stroke="#555555" stroke-width="1"/>
<g transform="translate(114.68,143.55)"><text x="-5.45" y="0" font-size="9.8">74</text></g>
<line x1="128.9" y1="129.3" x2="128.9" y2="133.3" stroke="#555555" stroke-width="1"/>
<g transform="translate(128.9,143.55)"><text x="-5.45" y="0" font-size="9.8">75</text></g>
<line x1="143.12" y1="129.3" x2="143.12" y2="133.3" stroke="#555555" stroke-width="1"/>
<g transform="translate(143.12,143.55)"><text x="-5.45" y="0" font-size="9.8">76</text></g>
<line x1="157.34" y1="129.3" x2="157.34" y2="133.3" stroke="#555555" stroke-width="1"/>
<g transform="translate(157.34,143.55)"><text x="-5.45" y="0" font-size="9.8">77</text></g>
<line x1="171.56" y1="129.3" x2="171.56" y2="133.3" stroke="#555555" stroke-width="1"/>
<g transform="translate(171.56,143.55)"><text x="-5.45" y="0" font-size="9.8">78</text></g>
<line x1="185.78" y1="129.3" x2="185.78" y2="133.3" stroke="#555555" stroke-width="1"/>
<g transform="translate(185.78,143.55)"><text x="-5.45" y="0" font-size="9.8">79</text></g>
<line x1="200" y1="129.3" x2="200" y2="133.3" stroke="#555555" stroke-width="1"/>
<g transform="translate(200,143.55)"><text x="-5.45" y="0" font-size="9.8">80</text></g>
<line x1="51.5" y1="40" x2="51.5" y2="129.8" stroke="#555555" stroke-width="1.1"/>
<line x1="51" y1="129.3" x2="205.9" y2="129.3" stroke="#555555" stroke-width="1.1"/>
<text x="52.75" y="35.3" font-size="13.7">(E) Gross Motor</text>
<text transform="translate(33,84.6) rotate(-90) scale(1,1.05)" text-anchor="middle" font-size="9.8">Probability of Independence</text>
<text x="128.6" y="153.6" text-anchor="middle" font-size="9.8">Age</text>
</g>
<line x1="356.5" y1="308.9" x2="356.5" y2="219.6" stroke="#2a2a2a" stroke-width="1.05" stroke-dasharray="8.2 4.4"/>
<polyline points="285.8,236.3 300.02,237.3 314.24,238.4 328.46,239.8 342.68,241.1 356.9,242.85 371.12,244.3 385.34,246.2 399.56,247.8 413.78,249.6 428,251.7" fill="none" stroke="#fff1e4" stroke-width="4.0" stroke-linejoin="round"/>
<polyline points="285.8,238.7 300.02,240 314.24,241.4 328.46,242.8 342.68,244 356.9,245.45" fill="none" stroke="#eeeeff" stroke-width="5.0" stroke-linejoin="round"/>
<polyline points="356.9,255.1 371.12,256 385.34,256.8 399.56,257.7 413.78,258.6 428,259.5" fill="none" stroke="#eeeeff" stroke-width="6.0" stroke-linejoin="round"/>
<polyline points="285.8,236.3 300.02,237.3 314.24,238.4 328.46,239.8 342.68,241.1 356.9,242.85 371.12,244.3 385.34,246.2 399.56,247.8 413.78,249.6 428,251.7" fill="none" stroke="#ff7f0e" stroke-width="1.0" stroke-linejoin="round"/>
<circle cx="285.8" cy="236.3" r="1.85" fill="#ff7f0e"/><circle cx="300.02" cy="237.3" r="1.85" fill="#ff7f0e"/><circle cx="314.24" cy="238.4" r="1.85" fill="#ff7f0e"/><circle cx="328.46" cy="239.8" r="1.85" fill="#ff7f0e"/><circle cx="342.68" cy="241.1" r="1.85" fill="#ff7f0e"/><circle cx="356.9" cy="242.85" r="1.85" fill="#ff7f0e"/><circle cx="371.12" cy="244.3" r="1.85" fill="#ff7f0e"/><circle cx="385.34" cy="246.2" r="1.85" fill="#ff7f0e"/><circle cx="399.56" cy="247.8" r="1.85" fill="#ff7f0e"/><circle cx="413.78" cy="249.6" r="1.85" fill="#ff7f0e"/><circle cx="428" cy="251.7" r="1.85" fill="#ff7f0e"/>
<polyline points="285.8,238.7 300.02,240 314.24,241.4 328.46,242.8 342.68,244 356.9,245.45" fill="none" stroke="#0000ff" stroke-width="1.15" stroke-linejoin="round"/>
<polyline points="356.9,255.1 371.12,256 385.34,256.8 399.56,257.7 413.78,258.6 428,259.5" fill="none" stroke="#0000ff" stroke-width="1.15" stroke-linejoin="round"/>
<circle cx="285.8" cy="238.7" r="1.9" fill="#0000ff"/><circle cx="300.02" cy="240" r="1.9" fill="#0000ff"/><circle cx="314.24" cy="241.4" r="1.9" fill="#0000ff"/><circle cx="328.46" cy="242.8" r="1.9" fill="#0000ff"/><circle cx="342.68" cy="244" r="1.9" fill="#0000ff"/><circle cx="356.9" cy="245.45" r="1.9" fill="#0000ff"/>
<circle cx="356.9" cy="255.1" r="1.9" fill="#0000ff"/><circle cx="371.12" cy="256" r="1.9" fill="#0000ff"/><circle cx="385.34" cy="256.8" r="1.9" fill="#0000ff"/><circle cx="399.56" cy="257.7" r="1.9" fill="#0000ff"/><circle cx="413.78" cy="258.6" r="1.9" fill="#0000ff"/><circle cx="428" cy="259.5" r="1.9" fill="#0000ff"/>
<g transform="translate(456,179.6)">
<line x1="52" y1="46.4" x2="205.9" y2="46.4" stroke="#e8e8e8" stroke-width="0.9"/>
<line x1="52" y1="57.4" x2="205.9" y2="57.4" stroke="#e8e8e8" stroke-width="0.9"/>
<line x1="52" y1="68.4" x2="205.9" y2="68.4" stroke="#e8e8e8" stroke-width="0.9"/>
<line x1="52" y1="79.4" x2="205.9" y2="79.4" stroke="#e8e8e8" stroke-width="0.9"/>
<line x1="52" y1="90.4" x2="205.9" y2="90.4" stroke="#e8e8e8" stroke-width="0.9"/>
<line x1="52" y1="101.4" x2="205.9" y2="101.4" stroke="#e8e8e8" stroke-width="0.9"/>
<line x1="52" y1="112.4" x2="205.9" y2="112.4" stroke="#e8e8e8" stroke-width="0.9"/>
<line x1="47.5" y1="46.4" x2="51.5" y2="46.4" stroke="#555555" stroke-width="1"/>
<g transform="translate(43.4,46.4) rotate(-90)"><path transform="translate(-2.72,0) scale(9.8,-9.8)" d="M0.302,0 L0.392,0 L0.392,0.709 L0.318,0.709 C0.296,0.622 0.228,0.582 0.108,0.578 L0.108,0.512 L0.302,0.512 Z" fill="#000" stroke="#000" stroke-width="0.03"/></g>
<line x1="47.5" y1="57.4" x2="51.5" y2="57.4" stroke="#555555" stroke-width="1"/>
<g transform="translate(43.4,57.4) rotate(-90)"><text x="-4.09" y="0" font-size="9.8">.9</text></g>
<line x1="47.5" y1="68.4" x2="51.5" y2="68.4" stroke="#555555" stroke-width="1"/>
<g transform="translate(43.4,68.4) rotate(-90)"><text x="-4.09" y="0" font-size="9.8">.8</text></g>
<line x1="47.5" y1="79.4" x2="51.5" y2="79.4" stroke="#555555" stroke-width="1"/>
<g transform="translate(43.4,79.4) rotate(-90)"><text x="-4.09" y="0" font-size="9.8">.7</text></g>
<line x1="47.5" y1="90.4" x2="51.5" y2="90.4" stroke="#555555" stroke-width="1"/>
<g transform="translate(43.4,90.4) rotate(-90)"><text x="-4.09" y="0" font-size="9.8">.6</text></g>
<line x1="47.5" y1="101.4" x2="51.5" y2="101.4" stroke="#555555" stroke-width="1"/>
<g transform="translate(43.4,101.4) rotate(-90)"><text x="-4.09" y="0" font-size="9.8">.5</text></g>
<line x1="47.5" y1="112.4" x2="51.5" y2="112.4" stroke="#555555" stroke-width="1"/>
<g transform="translate(43.4,112.4) rotate(-90)"><text x="-4.09" y="0" font-size="9.8">.4</text></g>
<line x1="47.5" y1="123.4" x2="51.5" y2="123.4" stroke="#555555" stroke-width="1"/>
<g transform="translate(43.4,123.4) rotate(-90)"><text x="-4.09" y="0" font-size="9.8">.3</text></g>
<line x1="57.8" y1="129.3" x2="57.8" y2="133.3" stroke="#555555" stroke-width="1"/>
<g transform="translate(57.8,143.55)"><text x="-5.45" y="0" font-size="9.8">70</text></g>
<line x1="72.02" y1="129.3" x2="72.02" y2="133.3" stroke="#555555" stroke-width="1"/>
<g transform="translate(72.02,143.55)"><text x="-5.45" y="0" font-size="9.8">7</text><path transform="translate(0,0) scale(9.8,-9.8)" d="M0.302,0 L0.392,0 L0.392,0.709 L0.318,0.709 C0.296,0.622 0.228,0.582 0.108,0.578 L0.108,0.512 L0.302,0.512 Z" fill="#000" stroke="#000" stroke-width="0.03"/></g>
<line x1="86.24" y1="129.3" x2="86.24" y2="133.3" stroke="#555555" stroke-width="1"/>
<g transform="translate(86.24,143.55)"><text x="-5.45" y="0" font-size="9.8">72</text></g>
<line x1="100.46" y1="129.3" x2="100.46" y2="133.3" stroke="#555555" stroke-width="1"/>
<g transform="translate(100.46,143.55)"><text x="-5.45" y="0" font-size="9.8">73</text></g>
<line x1="114.68" y1="129.3" x2="114.68" y2="133.3" stroke="#555555" stroke-width="1"/>
<g transform="translate(114.68,143.55)"><text x="-5.45" y="0" font-size="9.8">74</text></g>
<line x1="128.9" y1="129.3" x2="128.9" y2="133.3" stroke="#555555" stroke-width="1"/>
<g transform="translate(128.9,143.55)"><text x="-5.45" y="0" font-size="9.8">75</text></g>
<line x1="143.12" y1="129.3" x2="143.12" y2="133.3" stroke="#555555" stroke-width="1"/>
<g transform="translate(143.12,143.55)"><text x="-5.45" y="0" font-size="9.8">76</text></g>
<line x1="157.34" y1="129.3" x2="157.34" y2="133.3" stroke="#555555" stroke-width="1"/>
<g transform="translate(157.34,143.55)"><text x="-5.45" y="0" font-size="9.8">77</text></g>
<line x1="171.56" y1="129.3" x2="171.56" y2="133.3" stroke="#555555" stroke-width="1"/>
<g transform="translate(171.56,143.55)"><text x="-5.45" y="0" font-size="9.8">78</text></g>
<line x1="185.78" y1="129.3" x2="185.78" y2="133.3" stroke="#555555" stroke-width="1"/>
<g transform="translate(185.78,143.55)"><text x="-5.45" y="0" font-size="9.8">79</text></g>
<line x1="200" y1="129.3" x2="200" y2="133.3" stroke="#555555" stroke-width="1"/>
<g transform="translate(200,143.55)"><text x="-5.45" y="0" font-size="9.8">80</text></g>
<line x1="51.5" y1="40" x2="51.5" y2="129.8" stroke="#555555" stroke-width="1.1"/>
<line x1="51" y1="129.3" x2="205.9" y2="129.3" stroke="#555555" stroke-width="1.1"/>
<text x="52.75" y="35.3" font-size="13.7">(F) Fine Motor</text>
<text transform="translate(33,84.6) rotate(-90) scale(1,1.05)" text-anchor="middle" font-size="9.8">Probability of Independence</text>
<text x="128.6" y="153.6" text-anchor="middle" font-size="9.8">Age</text>
</g>
<line x1="584.5" y1="308.9" x2="584.5" y2="219.6" stroke="#2a2a2a" stroke-width="1.05" stroke-dasharray="8.2 4.4"/>
<polyline points="513.8,229.3 528.02,230.3 542.24,230.9 556.46,231.9 570.68,232.9 584.9,233.8 599.12,235.2 613.34,236.4 627.56,237.5 641.78,238.7 656,240.2" fill="none" stroke="#fff1e4" stroke-width="4.0" stroke-linejoin="round"/>
<polyline points="513.8,230.9 528.02,231.4 542.24,232.3 556.46,233.1 570.68,233.8 584.9,234.6" fill="none" stroke="#eeeeff" stroke-width="5.0" stroke-linejoin="round"/>
<polyline points="584.9,239.6 599.12,240.6 613.34,241.4 627.56,242.2 641.78,243 656,243.9" fill="none" stroke="#eeeeff" stroke-width="6.0" stroke-linejoin="round"/>
<polyline points="513.8,229.3 528.02,230.3 542.24,230.9 556.46,231.9 570.68,232.9 584.9,233.8 599.12,235.2 613.34,236.4 627.56,237.5 641.78,238.7 656,240.2" fill="none" stroke="#ff7f0e" stroke-width="1.0" stroke-linejoin="round"/>
<circle cx="513.8" cy="229.3" r="1.85" fill="#ff7f0e"/><circle cx="528.02" cy="230.3" r="1.85" fill="#ff7f0e"/><circle cx="542.24" cy="230.9" r="1.85" fill="#ff7f0e"/><circle cx="556.46" cy="231.9" r="1.85" fill="#ff7f0e"/><circle cx="570.68" cy="232.9" r="1.85" fill="#ff7f0e"/><circle cx="584.9" cy="233.8" r="1.85" fill="#ff7f0e"/><circle cx="599.12" cy="235.2" r="1.85" fill="#ff7f0e"/><circle cx="613.34" cy="236.4" r="1.85" fill="#ff7f0e"/><circle cx="627.56" cy="237.5" r="1.85" fill="#ff7f0e"/><circle cx="641.78" cy="238.7" r="1.85" fill="#ff7f0e"/><circle cx="656" cy="240.2" r="1.85" fill="#ff7f0e"/>
<polyline points="513.8,230.9 528.02,231.4 542.24,232.3 556.46,233.1 570.68,233.8 584.9,234.6" fill="none" stroke="#0000ff" stroke-width="1.15" stroke-linejoin="round"/>
<polyline points="584.9,239.6 599.12,240.6 613.34,241.4 627.56,242.2 641.78,243 656,243.9" fill="none" stroke="#0000ff" stroke-width="1.15" stroke-linejoin="round"/>
<circle cx="513.8" cy="230.9" r="1.9" fill="#0000ff"/><circle cx="528.02" cy="231.4" r="1.9" fill="#0000ff"/><circle cx="542.24" cy="232.3" r="1.9" fill="#0000ff"/><circle cx="556.46" cy="233.1" r="1.9" fill="#0000ff"/><circle cx="570.68" cy="233.8" r="1.9" fill="#0000ff"/><circle cx="584.9" cy="234.6" r="1.9" fill="#0000ff"/>
<circle cx="584.9" cy="239.6" r="1.9" fill="#0000ff"/><circle cx="599.12" cy="240.6" r="1.9" fill="#0000ff"/><circle cx="613.34" cy="241.4" r="1.9" fill="#0000ff"/><circle cx="627.56" cy="242.2" r="1.9" fill="#0000ff"/><circle cx="641.78" cy="243" r="1.9" fill="#0000ff"/><circle cx="656" cy="243.9" r="1.9" fill="#0000ff"/>
<rect x="261.0" y="365.3" width="162.8" height="30.9" fill="#fff" stroke="#2a2a2a" stroke-width="1.2"/>
<rect x="267.1" y="372.1" width="19.7" height="4.9" fill="#fff1e5"/>
<rect x="267.1" y="384.9" width="19.7" height="5" fill="#e6e6ff"/>
<text x="295.6" y="377.6" font-size="7.0" style="stroke-width:0.12px">Individuals who remained cancer-free</text>
<text x="295.6" y="389.9" font-size="7.0" style="stroke-width:0.12px">Individuals diagnosed with cancer</text>
</svg>
</body></html>
